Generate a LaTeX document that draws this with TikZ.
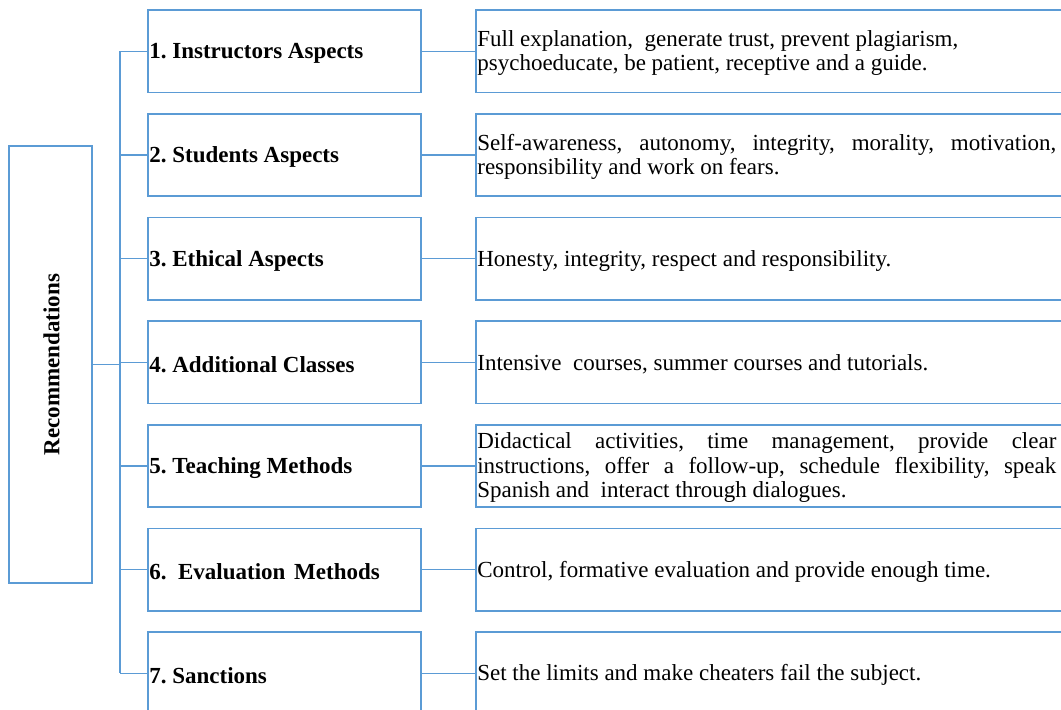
\documentclass[tikz,border=0pt]{standalone}
\usepackage{fontspec}
\setmainfont{Liberation Serif}
\definecolor{bl}{RGB}{91,155,213}
\begin{document}
\frenchspacing
\begin{tikzpicture}[x=1pt,y=-1pt,
  boxline/.style={draw=bl, line width=1.7pt},
  midbox/.style={boxline, rectangle, minimum width=273pt, minimum height=82.5pt,
     inner xsep=2pt, inner ysep=0pt, text width=269pt, align=left,
     font=\fontsize{23}{24.5}\selectfont\bfseries},
  midtext/.style={anchor=west, inner xsep=2pt, inner ysep=0pt, yshift=-2pt,
     font=\fontsize{23}{24.5}\selectfont\bfseries},
  rightbox/.style={boxline, rectangle, minimum width=600pt, minimum height=82.5pt, inner sep=0pt},
  righttext/.style={anchor=west, inner xsep=2pt, inner ysep=0pt, yshift=-2pt, text width=579pt, align=justify,
     font=\fontsize{23}{24.5}\selectfont},
  conn/.style={draw=bl, line width=1.5pt}]
\useasboundingbox (0,0) rectangle (1061,710);
\clip (0,0) rectangle (1061,710);
\fill[white] (0,0) rectangle (1061,710);

% left box
\node[boxline, rectangle, minimum width=83pt, minimum height=437pt, inner sep=0pt] (L) at (50.5,364.5) {};
\node[rotate=90, font=\fontsize{23}{24.5}\selectfont\bfseries] (Ltext) at (51.5,364.5) {Recommendations};

% middle boxes
\foreach \i/\y in {1/51.25,2/154.9,3/258.6,4/362.3,5/465.9,6/569.6,7/673.3}
  \node[boxline, rectangle, minimum width=273pt, minimum height=82.5pt, inner sep=0pt] (m\i) at (284.5,\y) {};

\node[midtext] (a1) at (m1.west) {1. Instructors Aspects};
\node[midtext] (a2) at (m2.west) {2. Students Aspects};
\node[midtext] (a3) at (m3.west) {3. Ethical Aspects};
\node[midtext] (a4) at (m4.west) {4. Additional Classes};
\node[midtext] (a5) at (m5.west) {5. Teaching Methods};
\node[midtext] (a6) at (m6.west) {6.\ \ Evaluation\kern3pt\ Methods};
\node[midtext] (a7) at (m7.west) {7. Sanctions};

% right boxes
\foreach \i/\y in {1/51.25,2/154.9,3/258.6,4/362.3,5/465.9,6/569.6,7/673.3}
  \node[rightbox] (r\i) at (776,\y) {};

\node[righttext] (t1) at (r1.west) {\raggedright Full explanation,\ \ generate trust, prevent plagiarism,\\ psychoeducate,\ be patient, receptive and a guide.};
\node[righttext] (t2) at (r2.west) {Self-awareness, autonomy, integrity, morality, motivation,\linebreak responsibility and work on fears.};
\node[righttext] (t3) at (r3.west) {Honesty, integrity, respect and responsibility.};
\node[righttext] (t4) at (r4.west) {Intensive\ \ courses, summer courses and tutorials.};
\node[righttext] (t5) at (r5.west) {Didactical activities, time management, provide clear\linebreak instructions, offer a follow-up, schedule flexibility, speak\linebreak Spanish and\ \ interact through dialogues.};
\node[righttext] (t6) at (r6.west) {Control, formative evaluation and provide enough time.};
\node[righttext] (t7) at (r7.west) {Set the limits and make cheaters fail the subject.};

% connectors
\coordinate (trT) at (120,51.25);
\draw[conn] (m1.west -| trT) -- (m7.west -| trT);
\draw[conn] (L.east) -- (L.east -| trT);
\foreach \i in {1,...,7} {
  \draw[conn] (m\i.west -| trT) -- (m\i.west);
  \draw[conn] (m\i.east) -- (r\i.west);
}
\end{tikzpicture}
\end{document}
